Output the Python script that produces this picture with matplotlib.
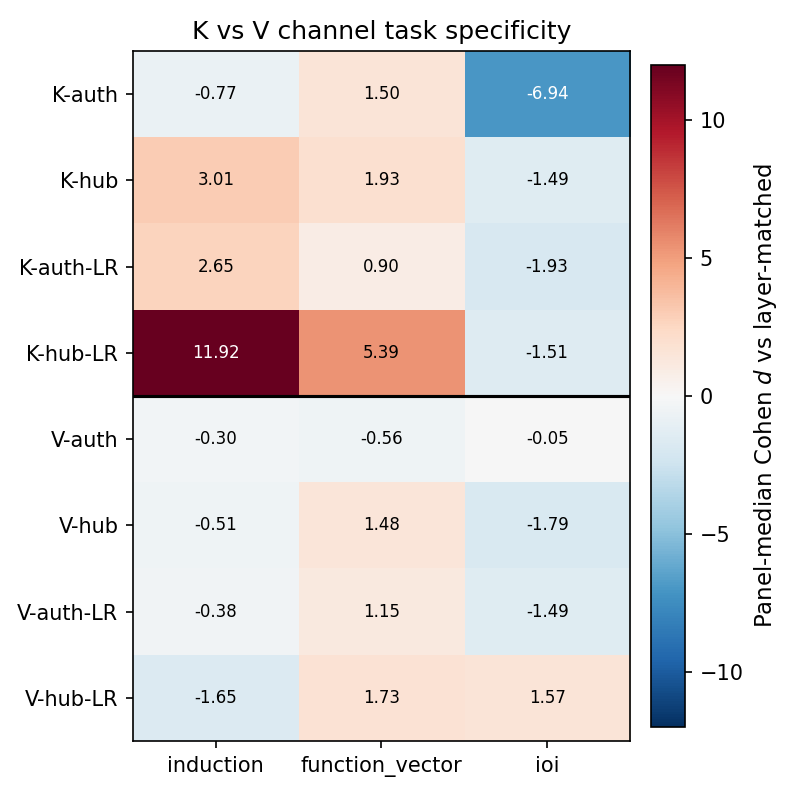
import matplotlib
matplotlib.use("Agg")
import matplotlib.pyplot as plt
import numpy as np

rows = ["K-auth", "K-hub", "K-auth-LR", "K-hub-LR", "V-auth", "V-hub", "V-auth-LR", "V-hub-LR"]
cols = ["induction", "function_vector", "ioi"]
induction = [-0.77, 3.01, 2.65, 11.92, -0.30, -0.51, -0.38, -1.65]
function_vector = [1.50, 1.93, 0.90, 5.39, -0.56, 1.48, 1.15, 1.73]
ioi = [-6.94, -1.49, -1.93, -1.51, -0.05, -1.79, -1.49, 1.57]

data = np.array([induction, function_vector, ioi]).T

DPI = 150
fig = plt.figure(figsize=(796 / DPI, 797 / DPI), dpi=DPI)
ax = fig.add_axes([0.167, 0.0703, 0.6245, 0.8657])
cax = fig.add_axes([0.818, 0.0878, 0.0427, 0.8304])

im = ax.imshow(data, cmap="RdBu_r", vmin=-12, vmax=12, aspect="auto")
for i in range(data.shape[0]):
    for j in range(data.shape[1]):
        v = data[i, j]
        ax.text(j, i, f"{v:.2f}", ha="center", va="center", fontsize=8,
                color="white" if abs(v) > 6 else "black")
ax.axhline(3.5, color="black", linewidth=1.5)
ax.set_xticks(range(len(cols)))
ax.set_xticklabels(cols, fontsize=10)
ax.set_yticks(range(len(rows)))
ax.set_yticklabels(rows, fontsize=10)
ax.set_title("K vs V channel task specificity", fontsize=12)

cb = fig.colorbar(im, cax=cax)
cb.set_label("Panel-median Cohen $d$ vs layer-matched", fontsize=11)
cb.ax.tick_params(labelsize=10)

fig.savefig("out.png", dpi=DPI)
